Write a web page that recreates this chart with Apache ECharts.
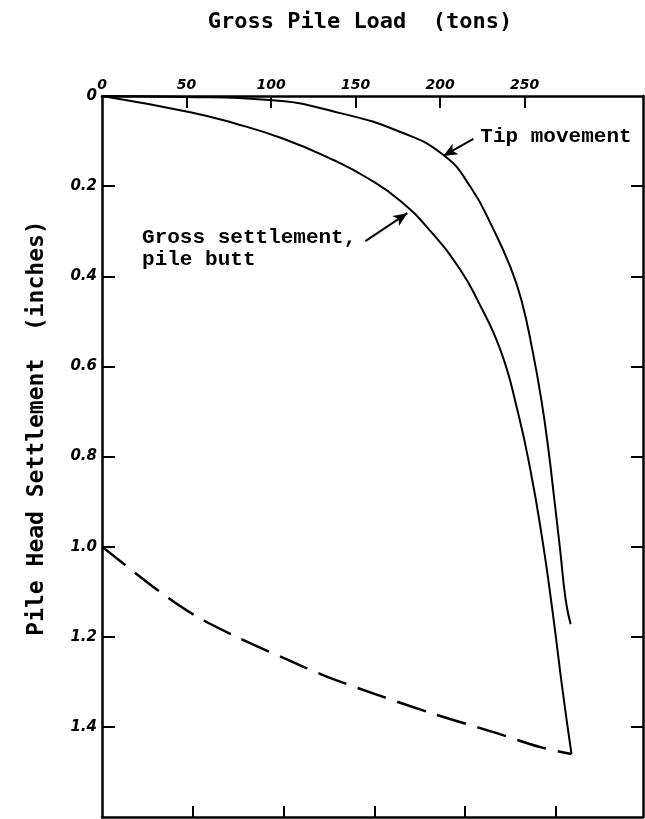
<!DOCTYPE html>
<html><head><meta charset="utf-8">
<script src="https://cdn.jsdelivr.net/npm/echarts@6/dist/echarts.min.js"></script>
<style>html,body{margin:0;padding:0;background:#fff}#c{width:645px;height:819px}</style>
</head><body><div id="c"></div>
<script>
// Tick labels
const loadTicks = [0, 50, 100, 150, 200, 250];
const settleTicks = [0, 0.2, 0.4, 0.6, 0.8, 1.0, 1.2, 1.4];

// Tip movement curve (load in tons, settlement in inches)
const tipLoad   = [0, 48.7, 99, 141, 176.5, 202, 218, 230.9, 241.6, 248.1, 254.6, 259.9, 264.1, 267.6, 271.0, 274.3, 277.2];
const tipSettle = [0, 0.002, 0.009, 0.038, 0.080, 0.131, 0.202, 0.291, 0.380, 0.453, 0.564, 0.675, 0.786, 0.897, 1.008, 1.119, 1.172];

// Gross settlement, pile butt
const grossLoad   = [0, 52.2, 77.7, 107.3, 136.9, 157.0, 176.5, 194.3, 212.0, 222.1, 235.7, 245.7, 253.4, 260.5, 266.4, 272.4, 277.7];
const grossSettle = [0, 0.036, 0.060, 0.095, 0.142, 0.182, 0.233, 0.300, 0.386, 0.453, 0.564, 0.697, 0.830, 0.985, 1.141, 1.318, 1.460];

// Dashed rebound line
const dashLoad   = [0, 34.5, 56.4, 80.1, 107.3, 133.3, 162.9, 194.3, 231, 259.3, 277.7];
const dashSettle = [1.0, 1.101, 1.156, 1.201, 1.247, 1.289, 1.329, 1.369, 1.411, 1.445, 1.460];

// Annotations
const xTitle = 'Gross Pile Load  (tons)';
const yTitle = 'Pile Head Settlement  (inches)';
const tipLabel = 'Tip movement';
const grossLabel = 'Gross settlement,\npile butt';

const zip = (a, b) => a.map((v, i) => [v, b[i]]);
const tickFont = { fontFamily: 'DejaVu Sans', fontWeight: 'bold', fontStyle: 'italic', color: '#000' };
const axisLine = { show: true, onZero: false, lineStyle: { color: '#000', width: 2.5 } };
const monoLabel = { fontFamily: 'Liberation Mono', fontWeight: 'bold', fontSize: 21, color: '#000' };

const chart = echarts.init(document.getElementById('c'), null, { renderer: 'canvas' });
chart.setOption({
  animation: false,
  backgroundColor: '#fff',
  grid: { left: 102, right: 2, top: 96, bottom: 2, outerBoundsMode: 'none', containLabel: false },
  xAxis: [
    { type: 'value', position: 'top', min: 0, max: 320, axisLine,
      splitLine: { show: false },
      axisTick: { show: true, inside: true, length: 12, lineStyle: { color: '#000', width: 2 }, customValues: loadTicks.slice(1) },
      axisLabel: Object.assign({ show: true, fontSize: 14, margin: 4, customValues: loadTicks }, tickFont) },
    { type: 'value', position: 'bottom', min: 0, max: 298, axisLine,
      splitLine: { show: false },
      axisTick: { show: true, inside: true, length: 11, lineStyle: { color: '#000', width: 2 }, customValues: loadTicks.slice(1) },
      axisLabel: { show: false } }
  ],
  yAxis: [
    { type: 'value', inverse: true, position: 'left', min: 0, max: 1.6, axisLine,
      splitLine: { show: false },
      axisTick: { show: true, inside: true, length: 13, lineStyle: { color: '#000', width: 2 }, customValues: settleTicks.slice(1) },
      axisLabel: Object.assign({ show: true, fontSize: 15, margin: 5, customValues: settleTicks,
        formatter: v => (v === 0 ? '0' : v.toFixed(1)) }, tickFont) },
    { type: 'value', inverse: true, position: 'right', min: 0, max: 1.6, axisLine,
      splitLine: { show: false },
      axisTick: { show: true, inside: true, length: 12, lineStyle: { color: '#000', width: 2 }, customValues: settleTicks.slice(1) },
      axisLabel: { show: false } }
  ],
  graphic: [
    { type: 'text', x: 360, y: 22, style: { text: xTitle, font: 'bold 22px "DejaVu Sans Mono"', fill: '#000', textAlign: 'center', textVerticalAlign: 'middle' } },
    { type: 'text', x: 37, y: 428, rotation: Math.PI / 2, style: { text: yTitle, font: 'bold 23px "DejaVu Sans Mono"', fill: '#000', textAlign: 'center', textVerticalAlign: 'middle' } }
  ],
  series: [
    { name: 'Tip movement', type: 'line', xAxisIndex: 0, yAxisIndex: 0, data: zip(tipLoad, tipSettle),
      showSymbol: false, smooth: 0.5, lineStyle: { color: '#000', width: 2 },
      markPoint: { symbol: 'rect', symbolSize: 0, silent: true,
        data: [{ coord: [223.8, 0.091], label: Object.assign({ show: true, formatter: tipLabel, position: 'right', distance: 0 }, monoLabel) }] },
      markLine: { silent: true, symbol: ['none', 'arrow'], symbolSize: [9, 14], label: { show: false },
        lineStyle: { color: '#000', width: 2, type: 'solid' },
        data: [[{ coord: [219.7, 0.095] }, { coord: [201.9, 0.133] }]] } },
    { name: 'Gross settlement, pile butt', type: 'line', xAxisIndex: 0, yAxisIndex: 0, data: zip(grossLoad, grossSettle),
      showSymbol: false, smooth: 0.5, lineStyle: { color: '#000', width: 2 },
      markPoint: { symbol: 'rect', symbolSize: 0, silent: true,
        data: [{ coord: [23.7, 0.3395], label: Object.assign({ show: true, formatter: grossLabel, position: 'right', distance: 0, lineHeight: 22 }, monoLabel) }] },
      markLine: { silent: true, symbol: ['none', 'arrow'], symbolSize: [9, 14], label: { show: false },
        lineStyle: { color: '#000', width: 2, type: 'solid' },
        data: [[{ coord: [155.8, 0.322] }, { coord: [180.6, 0.260] }]] } },
    { name: 'Rebound', type: 'line', xAxisIndex: 0, yAxisIndex: 0, data: zip(dashLoad, dashSettle),
      showSymbol: false, smooth: 0.3, lineStyle: { color: '#000', width: 2.5, type: [30, 12] } }
  ]
});
</script>
</body></html>
